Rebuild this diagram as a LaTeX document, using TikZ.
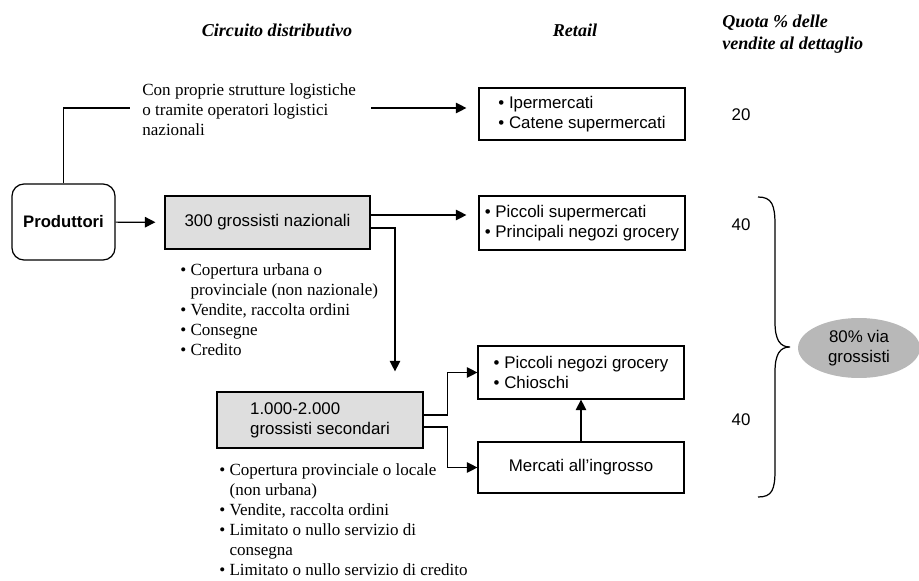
\documentclass[tikz,border=0pt]{standalone}
\usepackage{fontspec}
\setmainfont{Liberation Serif}
\setsansfont{Liberation Sans}
\usetikzlibrary{arrows.meta,shapes.geometric}
\tikzset{
 retail/.style={draw, line width=0.7pt, minimum width=4.12cm, minimum height=1.04cm,
  inner sep=0pt, align=left, font=\sffamily\fontsize{9.6}{11.5}\selectfont},
 grossista/.style={retail, fill=black!13},
 note/.style={anchor=north west, inner sep=0pt, align=left, font=\fontsize{9.7}{11.4}\selectfont},
 head/.style={inner sep=0pt, align=left, font=\bfseries\itshape\fontsize{10.3}{12.5}\selectfont},
 quota/.style={inner sep=0pt, font=\sffamily\fontsize{9.6}{11.5}\selectfont},
 freccia/.style={-{Triangle[length=6pt,width=6pt]}, line width=0.7pt},
 linea/.style={line width=0.7pt}
}
\begin{document}
\begin{tikzpicture}[x=0.02cm, y=-0.02cm]
\useasboundingbox (0,0) rectangle (919,581);
\node[head] (hcirc) at (277,30) {Circuito distributivo};
\node[head] (hret) at (575,30) {Retail};
\node[head, anchor=west] (hquota) at (722,34) {Quota \% delle\\vendite al dettaglio};
\node[retail, rounded corners=0.24cm, minimum width=2.06cm, minimum height=1.52cm,
 font=\sffamily\bfseries\fontsize{9.5}{11}\selectfont] (prod) at (63.5,222) {Produttori};
\node[grossista, minimum width=4.1cm, minimum height=1.06cm] (gn) at (267.5,222.5) {300 grossisti nazionali};
\node[grossista, minimum height=1.12cm] (gs) at (320,420) {1.000-2.000\\grossisti secondari};
\node[retail] (ipe) at (582,114) {\textbullet\ Ipermercati\\\textbullet\ Catene supermercati};
\node[retail, minimum height=1.08cm] (pns) at (582,223) {\textbullet\ Piccoli supermercati\\\textbullet\ Principali negozi grocery};
\node[retail, minimum height=1.06cm] (png) at (581,372.5) {\textbullet\ Piccoli negozi grocery\\\textbullet\ Chioschi};
\node[retail, minimum height=1.02cm] (mi) at (581,467.5) {Mercati all'ingrosso};
\node[note] (logistica) at (142,83) {Con proprie strutture logistiche\\o tramite operatori logistici\\nazionali};
\node[note] (servgn) at (180,263) {\textbullet\ Copertura urbana o\\\phantom{\textbullet\ }provinciale (non nazionale)\\\textbullet\ Vendite, raccolta ordini\\\textbullet\ Consegne\\\textbullet\ Credito};
\node[note] (servgs) at (219,463) {\textbullet\ Copertura provinciale o locale\\\phantom{\textbullet\ }(non urbana)\\\textbullet\ Vendite, raccolta ordini\\\textbullet\ Limitato o nullo servizio di\\\phantom{\textbullet\ }consegna\\\textbullet\ Limitato o nullo servizio di credito};
\node[quota] (q1) at (741,115) {20};
\node[quota] (q2) at (741,225) {40};
\node[quota] (q3) at (741,420) {40};
\node[ellipse, fill=black!28, minimum width=2.44cm, minimum height=1.2cm, inner sep=0pt,
 align=center, font=\sffamily\fontsize{9.6}{11.5}\selectfont] (via) at (859,348) {80\% via\\grossisti};
\coordinate (l1) at (130,108);
\coordinate (l2) at (371,108);
\draw[linea] (prod.north) |- (l1);
\draw[freccia, shorten >=0.24cm] (l2) -- (l2 -| ipe.west);
\draw[freccia, shorten >=0.18cm] (prod) -- (gn);
\draw[freccia, shorten >=0.24cm] ([yshift=0.15cm]gn.east) -- ([yshift=0.15cm]gn.east -| pns.west);
\draw[freccia, shorten >=0.4cm] ([yshift=-0.11cm]gn.east) -| ([xshift=1.5cm]gs.north);
\draw[freccia] ([yshift=0.1cm]gs.east) -- ++(0.48cm,0) |- (png.west);
\draw[freccia] ([yshift=-0.14cm]gs.east) -- ++(0.48cm,0) |- (mi.west);
\draw[freccia] (mi) -- (png);
\draw[linea] (758,197) .. controls (772,197) and (775,205) .. (775,225) -- (775,322)
 .. controls (775,340) and (780,347) .. (790,347)
 .. controls (780,347) and (775,354) .. (775,372) -- (775,470)
 .. controls (775,490) and (772,497) .. (758,497);
\end{tikzpicture}
\end{document}
